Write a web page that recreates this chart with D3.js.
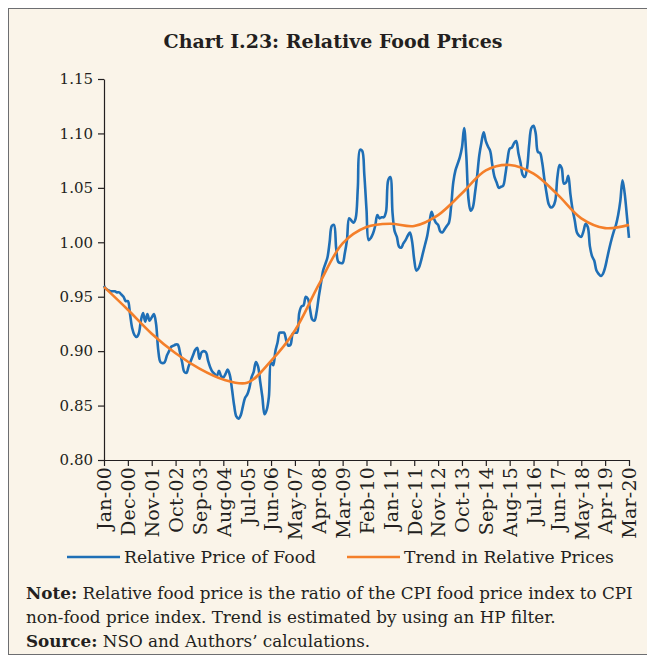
<!DOCTYPE html>
<html>
<head>
<meta charset="utf-8">
<script src="https://cdn.jsdelivr.net/npm/d3@7"></script>
<style>
  body { margin: 0; background: #fff; }
  svg text { font-family: "DejaVu Serif", serif; fill: #231f20; }
</style>
</head>
<body>
<svg id="chart" width="647" height="658"></svg>
<script>
// Relative price of food, monthly Jan-00 .. Mar-20
const relativePrice = [
  // 2000
  0.960, 0.957, 0.956, 0.955, 0.955, 0.955, 0.954, 0.954, 0.952, 0.950, 0.946, 0.946,
  // 2001
  0.934, 0.921, 0.915, 0.913, 0.916, 0.928, 0.935, 0.927, 0.934, 0.928, 0.931, 0.934,
  // 2002
  0.925, 0.901, 0.890, 0.889, 0.890, 0.896, 0.900, 0.904, 0.905, 0.906, 0.906, 0.899,
  // 2003
  0.890, 0.881, 0.880, 0.886, 0.891, 0.896, 0.901, 0.903, 0.893, 0.899, 0.900, 0.899,
  // 2004
  0.891, 0.885, 0.881, 0.879, 0.877, 0.882, 0.877, 0.876, 0.879, 0.883, 0.878, 0.865,
  // 2005
  0.850, 0.840, 0.838, 0.841, 0.849, 0.857, 0.860, 0.866, 0.876, 0.881, 0.890, 0.886,
  // 2006
  0.872, 0.858, 0.842, 0.846, 0.858, 0.890, 0.887, 0.900, 0.908, 0.917, 0.917, 0.917,
  // 2007
  0.910, 0.905, 0.906, 0.916, 0.917, 0.917, 0.935, 0.941, 0.942, 0.950, 0.948, 0.938,
  // 2008
  0.929, 0.928, 0.936, 0.950, 0.962, 0.974, 0.980, 0.986, 1.000, 1.015, 1.016, 0.995,
  // 2009
  0.982, 0.981, 0.981, 0.990, 1.002, 1.022, 1.020, 1.018, 1.022, 1.050, 1.085, 1.084,
  // 2010
  1.062, 1.030, 1.002, 1.004, 1.008, 1.015, 1.025, 1.022, 1.023, 1.023, 1.028, 1.057,
  // 2011
  1.060, 1.027, 1.010, 1.005, 0.996, 0.995, 0.999, 1.002, 1.006, 1.009, 1.001, 0.984,
  // 2012
  0.974, 0.976, 0.982, 0.990, 0.998, 1.006, 1.018, 1.028, 1.022, 1.018, 1.016, 1.010,
  // 2013
  1.009, 1.012, 1.015, 1.018, 1.033, 1.055, 1.066, 1.072, 1.078, 1.087, 1.105, 1.080,
  // 2014
  1.040, 1.029, 1.032, 1.045, 1.061, 1.080, 1.092, 1.101, 1.093, 1.088, 1.084, 1.071,
  // 2015
  1.060, 1.055, 1.050, 1.051, 1.052, 1.062, 1.076, 1.086, 1.087, 1.091, 1.093, 1.082,
  // 2016
  1.073, 1.062, 1.060, 1.068, 1.090, 1.105, 1.107, 1.100, 1.083, 1.082, 1.073, 1.058,
  // 2017
  1.045, 1.035, 1.032, 1.033, 1.038, 1.060, 1.071, 1.068, 1.054, 1.055, 1.061, 1.044,
  // 2018
  1.030, 1.020, 1.009, 1.006, 1.005, 1.010, 1.017, 1.014, 0.996, 0.987, 0.983, 0.974,
  // 2019
  0.971, 0.969, 0.971, 0.977, 0.986, 0.995, 1.003, 1.010, 1.016, 1.025, 1.038, 1.057,
  // 2020
  1.045, 1.025, 1.004
];

// HP trend, read at every tick month (every 11 months)
const trendValues = [
  0.959, 0.938, 0.916, 0.898, 0.884, 0.874, 0.871, 0.891, 0.919, 0.961, 0.999, 1.014,
  1.017, 1.015, 1.025, 1.045, 1.066, 1.071, 1.063, 1.044, 1.022, 1.013, 1.016
];

const tickLabels = [
  "Jan-00", "Dec-00", "Nov-01", "Oct-02", "Sep-03", "Aug-04", "Jul-05", "Jun-06",
  "May-07", "Apr-08", "Mar-09", "Feb-10", "Jan-11", "Dec-11", "Nov-12", "Oct-13",
  "Sep-14", "Aug-15", "Jul-16", "Jun-17", "May-18", "Apr-19", "Mar-20"
];
const yTicks = [0.80, 0.85, 0.90, 0.95, 1.00, 1.05, 1.10, 1.15];
const tickStep = 11;

const svg = d3.select("#chart");

// panel
svg.append("rect")
  .attr("x", 8.5).attr("y", 8.5)
  .attr("width", 645).attr("height", 646)
  .attr("fill", "#faf4e9")
  .attr("stroke", "#6d6e71");

svg.append("text")
  .attr("x", 333).attr("y", 48)
  .attr("text-anchor", "middle")
  .attr("font-weight", "bold")
  .attr("font-size", 19)
  .text("Chart I.23: Relative Food Prices");

const x = d3.scaleLinear().domain([0, relativePrice.length - 1]).range([104, 629]);
const y = d3.scaleLinear().domain([0.80, 1.15]).range([460, 79]);

// y axis
const yAxis = svg.append("g")
  .attr("transform", "translate(104,0)")
  .call(d3.axisLeft(y).tickValues(yTicks).tickFormat(d3.format(".2f")).tickSize(6).tickSizeOuter(0));
yAxis.selectAll("text").attr("font-size", 15).attr("x", -11).attr("font-family", "DejaVu Serif");

// x axis
const tickMonths = tickLabels.map((d, i) => i * tickStep);
const xAxis = svg.append("g")
  .attr("transform", "translate(0,460)")
  .call(d3.axisBottom(x).tickValues(tickMonths).tickFormat((d, i) => tickLabels[i]).tickSize(6).tickSizeOuter(0));
xAxis.selectAll("text")
  .attr("font-size", 19)
  .attr("letter-spacing", 0.2)
  .attr("font-family", "DejaVu Serif")
  .attr("text-anchor", "end")
  .attr("transform", "rotate(-90)")
  .attr("x", -7).attr("y", 0).attr("dy", "0.36em");

svg.selectAll(".domain, .tick line").attr("stroke", "#231f20").attr("stroke-width", 1.2);

// lines
const priceLine = d3.line()
  .x((d, i) => x(i))
  .y(d => y(d))
  .curve(d3.curveCatmullRom.alpha(0.5));

svg.append("path")
  .datum(relativePrice)
  .attr("fill", "none")
  .attr("stroke", "#1f6fb6")
  .attr("stroke-width", 2.6)
  .attr("stroke-linejoin", "round")
  .attr("d", priceLine);

const trendLine = d3.line()
  .x((d, i) => x(tickMonths[i]))
  .y(d => y(d))
  .curve(d3.curveCatmullRom.alpha(0.5));

svg.append("path")
  .datum(trendValues)
  .attr("fill", "none")
  .attr("stroke", "#f47f2a")
  .attr("stroke-width", 2.6)
  .attr("d", trendLine);

// legend
const legend = [
  { name: "Relative Price of Food", color: "#1f6fb6", x: 67 },
  { name: "Trend in Relative Prices", color: "#f47f2a", x: 347 }
];
legend.forEach(l => {
  svg.append("line")
    .attr("x1", l.x).attr("x2", l.x + 53)
    .attr("y1", 557).attr("y2", 557)
    .attr("stroke", l.color).attr("stroke-width", 2.6);
  svg.append("text")
    .attr("x", l.x + 57).attr("y", 563)
    .attr("font-size", 17.2)
    .text(l.name);
});

// note
const noteLines = [
  [["Note:", true], [" Relative food price is the ratio of the CPI food price index to CPI", false]],
  [["non-food price index. Trend is estimated by using an HP filter.", false]],
  [["Source:", true], [" NSO and Authors\u2019 calculations.", false]]
];
noteLines.forEach((parts, i) => {
  const t = svg.append("text")
    .attr("x", 26).attr("y", 599 + i * 24)
    .attr("font-size", 16.8);
  parts.forEach(p => {
    t.append("tspan")
      .attr("font-weight", p[1] ? "bold" : "normal")
      .text(p[0]);
  });
});
</script>
</body>
</html>
